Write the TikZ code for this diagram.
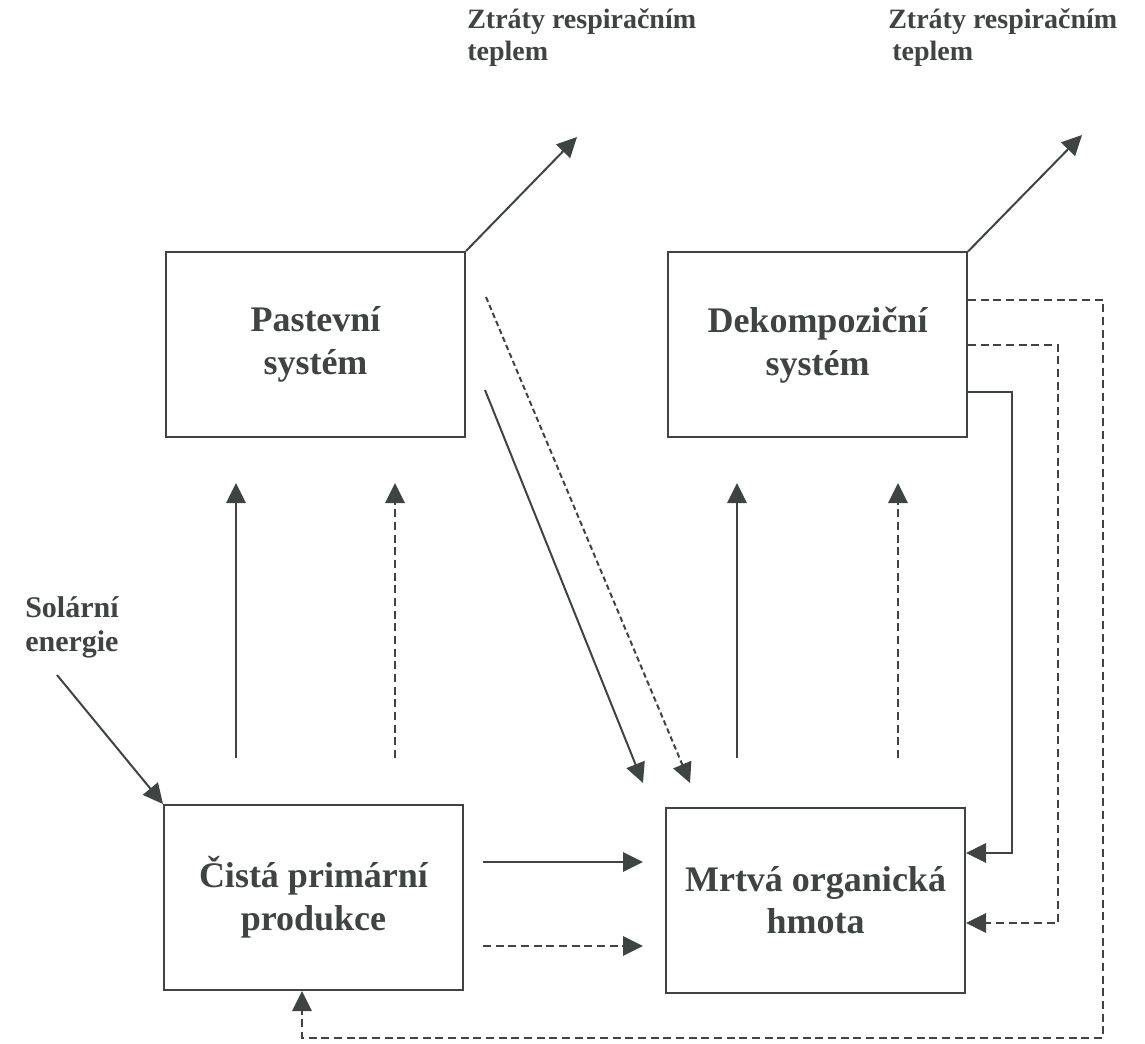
\documentclass[tikz,border=0pt]{standalone}
\usepackage{fontspec}
\setmainfont{Liberation Serif}
\usetikzlibrary{arrows.meta}
\definecolor{ink}{RGB}{62,68,66}
\begin{document}
\begin{tikzpicture}[x=0.75pt,y=-0.75pt,
  box/.style={draw=ink, line width=1.5pt, minimum width=224.25pt, minimum height=138.75pt, inner sep=0pt, align=center, font=\fontsize{27}{32}\selectfont\bfseries, text=ink},
  lbl/.style={align=left, inner sep=0pt, text=ink, anchor=north west, font=\fontsize{21}{24}\selectfont\bfseries},
  conn/.style={draw=ink, line width=1.5pt, -{Triangle[length=15pt,width=14.5pt]}},
  dsh/.style={dash pattern=on 6pt off 3.5pt},
  fdsh/.style={dash pattern=on 4pt off 2.5pt}]
\useasboundingbox (0,0) rectangle (1145,1044);

% boxes
\node[box] (past) at (315.5,344.5) {Pastevní\\systém};
\node[box] (dek)  at (817.5,345)   {Dekompoziční\\systém};
\node[box] (cist) at (313.5,897.5) {Čistá primární\\produkce};
\node[box] (mrt)  at (815.5,900)   {Mrtvá organická\\hmota};

% labels
\node[lbl] (z1) at (467,8) {Ztráty respiračním\\teplem};
\node[lbl] (z2) at (888,8) {Ztráty respiračním\\\hspace*{3pt}teplem};
\node[lbl, font=\fontsize{22.5}{26}\selectfont\bfseries] (sol) at (25,596) {Solární\\energie};

% coordinates
\coordinate (t1) at (577,137);
\coordinate (t2) at (1082,135);
\coordinate (v1a) at (236,758); \coordinate (v1b) at (236,483);
\coordinate (v2a) at (395,758); \coordinate (v2b) at (395,483);
\coordinate (v3a) at (737,758); \coordinate (v3b) at (737,483);
\coordinate (v4a) at (898,758); \coordinate (v4b) at (898,483);
\coordinate (d1a) at (485,390); \coordinate (d1b) at (643,783);
\coordinate (d2a) at (486,297); \coordinate (d2b) at (690,783);
\coordinate (h1a) at (483,862); \coordinate (h1b) at (643,862);
\coordinate (h2a) at (483,946); \coordinate (h2b) at (643,946);
\coordinate (sa) at (57,675);
\coordinate (s1) at (1012,392); \coordinate (s2) at (1012,853);
\coordinate (i1) at (1058,345); \coordinate (i2) at (1058,923);
\coordinate (o1) at (1103,300); \coordinate (o2) at (1103,1038); \coordinate (o3) at (302,1038);

% respiration losses
\draw[conn] (past.north east) -- (t1);
\draw[conn] (dek.north east) -- (t2);

% vertical flows
\draw[conn] (v1a) -- (v1b);
\draw[conn, dsh] (v2a) -- (v2b);
\draw[conn] (v3a) -- (v3b);
\draw[conn, dsh] (v4a) -- (v4b);

% diagonal flows
\draw[conn] (d1a) -- (d1b);
\draw[conn, fdsh] (d2a) -- (d2b);

% horizontal flows
\draw[conn] (h1a) -- (h1b);
\draw[conn, dsh] (h2a) -- (h2b);

% solar energy
\draw[conn] (sa) -- (cist.north west);

% loops on the right
\draw[conn] (dek.east |- s1) -- (s1) -- (s2) -- (mrt.east |- s2);
\draw[conn, dsh] (dek.east |- i1) -- (i1) -- (i2) -- (mrt.east |- i2);
\draw[conn, dsh] (dek.east |- o1) -- (o1) -- (o2) -- (o3) -- (cist.south -| o3);
\end{tikzpicture}
\end{document}
